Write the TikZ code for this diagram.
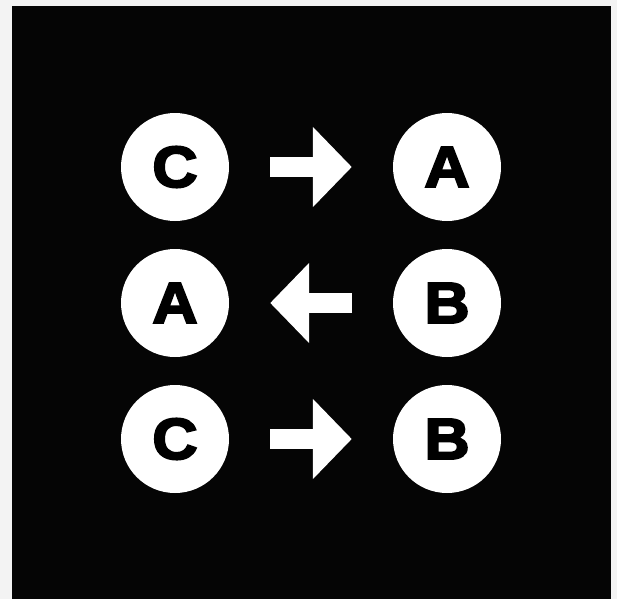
\documentclass[tikz,border=0pt]{standalone}
\usepackage{fontspec}
\usepackage{tikz}
\usetikzlibrary{arrows.meta}
\newfontfamily\letterfont{Liberation Sans Bold}[FakeBold=3.5, FakeStretch=1.08]
\definecolor{pagegray}{HTML}{F3F3F3}
\definecolor{boardblack}{HTML}{050505}
\tikzset{
	token/.style={circle, fill=white, minimum size=108pt, inner sep=0pt, font=\letterfont\fontsize{58}{58}\selectfont},
	move/.style={white, line width=20pt, shorten <=41pt, shorten >=41pt, -{Triangle[width=78pt, length=39pt]}}
}

\begin{document}
\begin{tikzpicture}[x=1pt, y=-1pt]
	% Background and board:
	\fill[pagegray] (0, 0) rectangle (617, 599);
	\fill[boardblack] (12, 6) rectangle (611, 599);
	% Tokens:
	\node[token] (c1) at (175, 167) {C};
	\node[token] (a1) at (447, 167) {A};
	\node[token] (a2) at (175, 303) {A};
	\node[token] (b2) at (447, 303) {B};
	\node[token] (c3) at (175, 439) {C};
	\node[token] (b3) at (447, 439) {B};
	% Moves:
	\draw[move] (c1) -- (a1);
	\draw[move] (b2) -- (a2);
	\draw[move] (c3) -- (b3);
\end{tikzpicture}
\end{document}
